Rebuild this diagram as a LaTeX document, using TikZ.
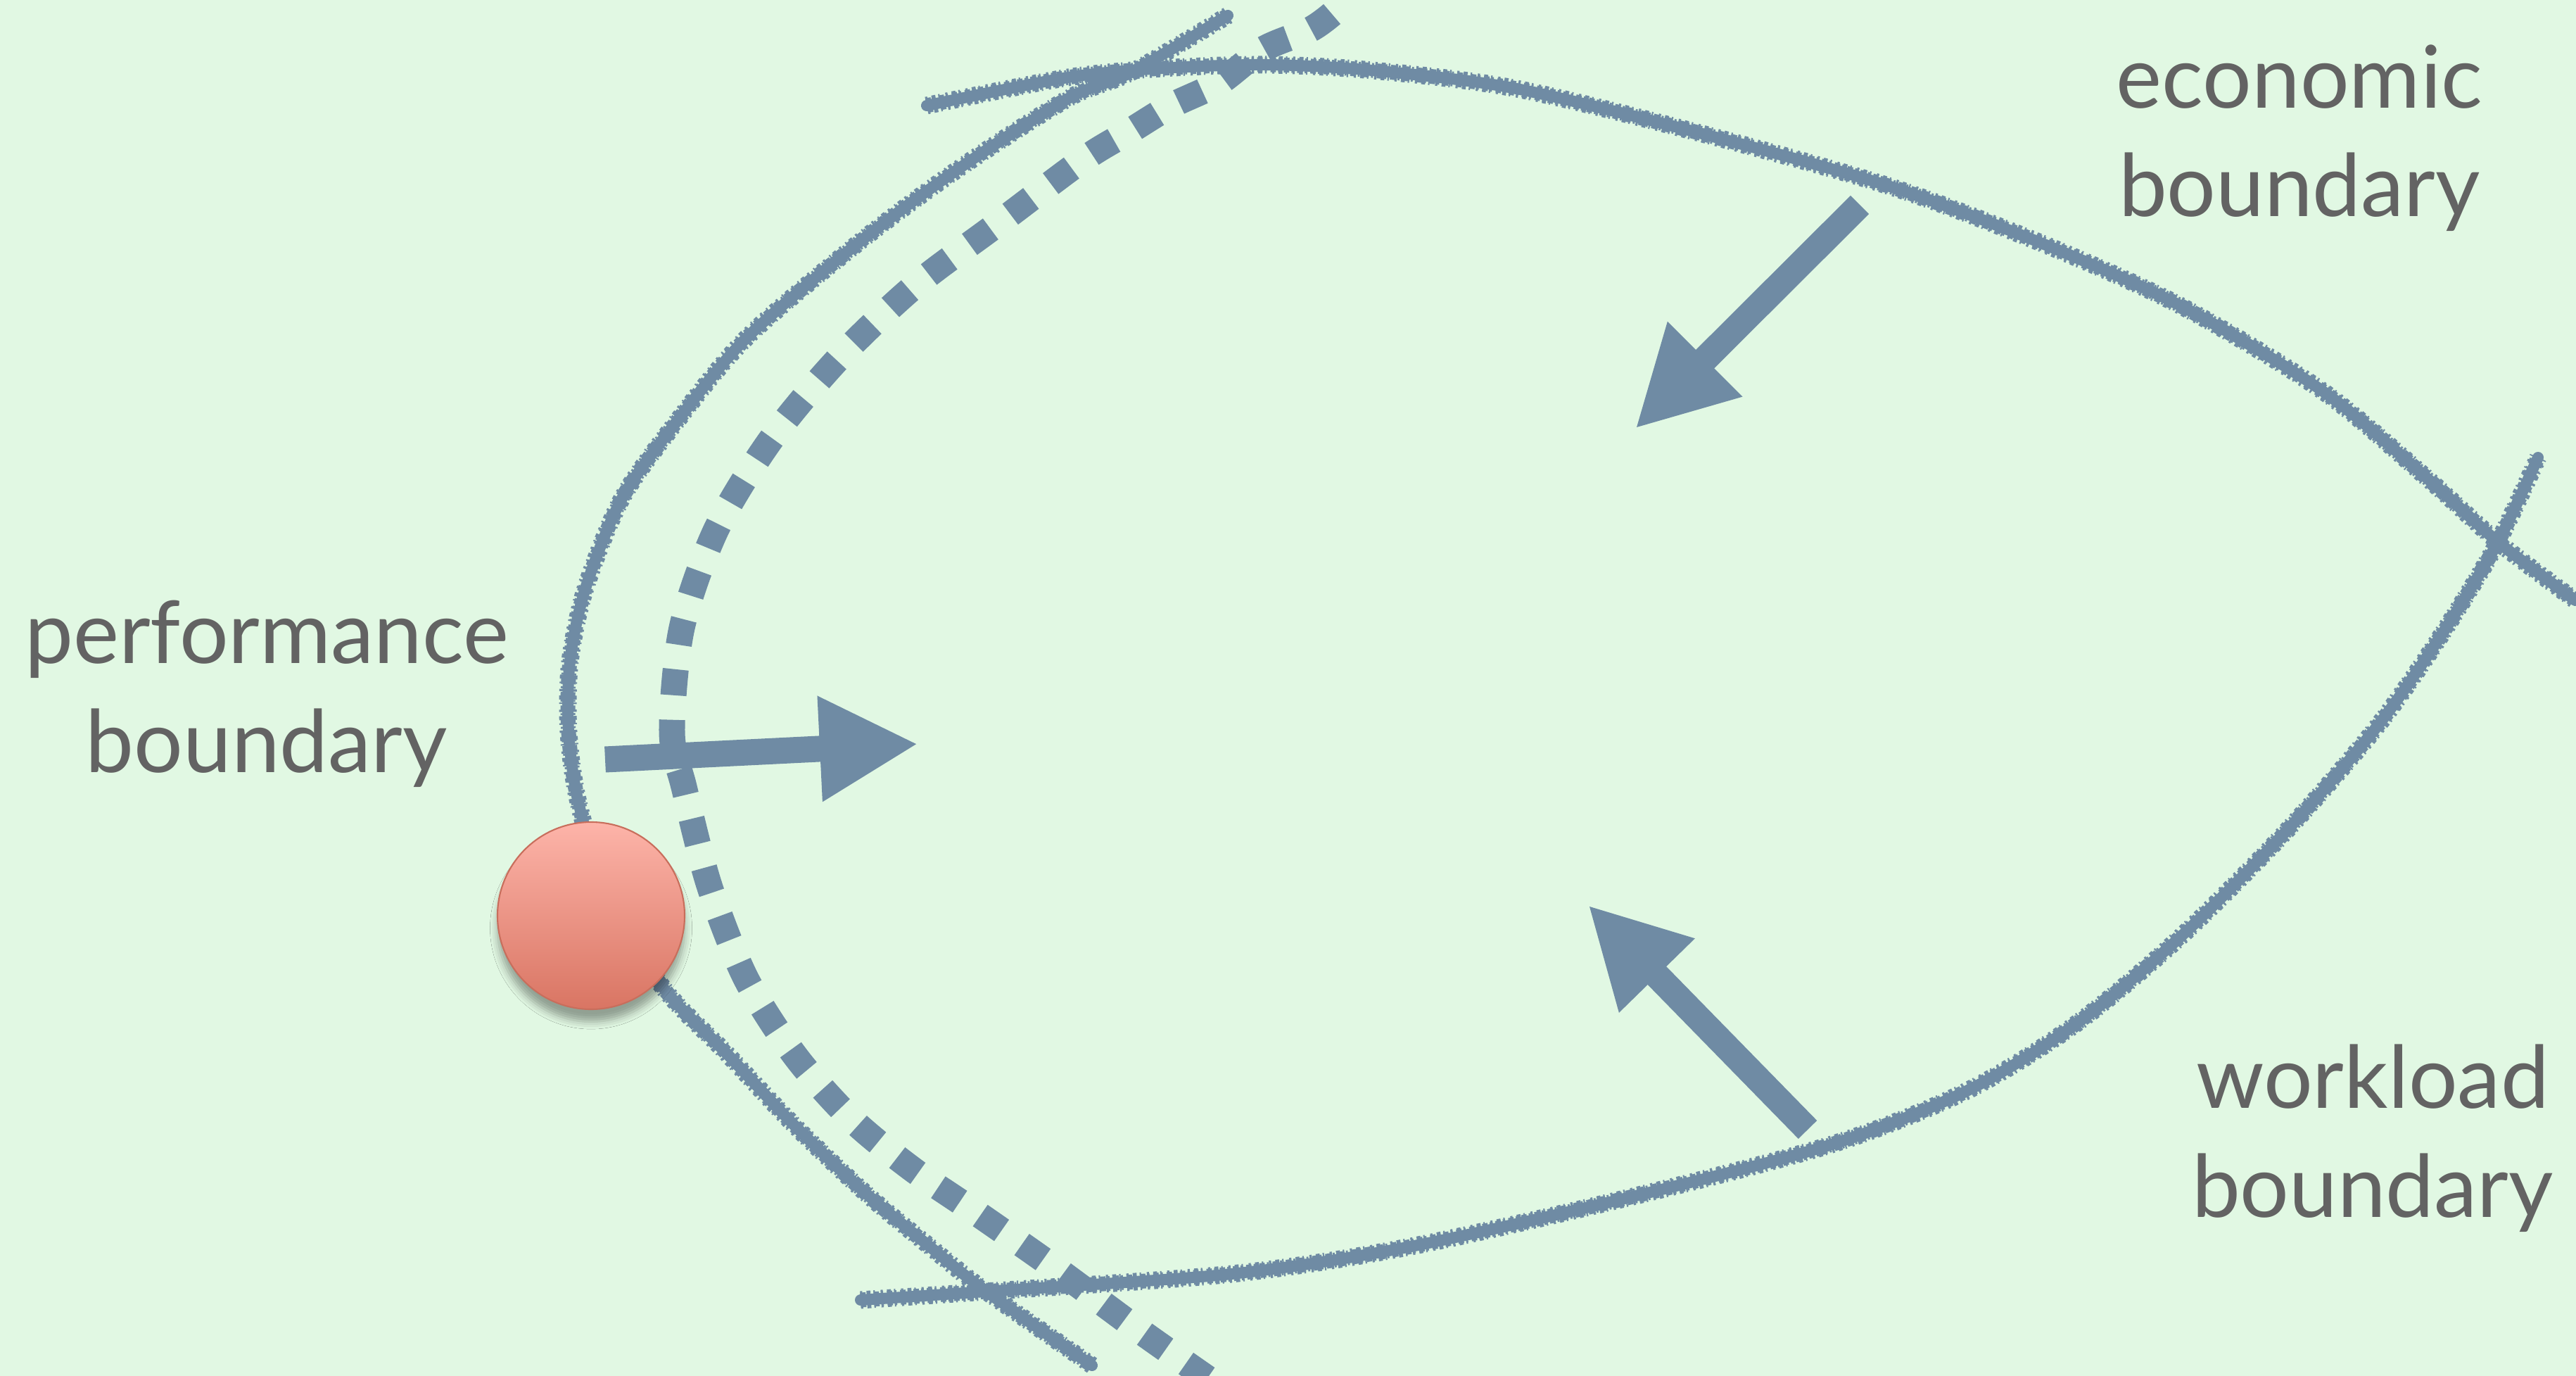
\documentclass[tikz,border=0pt]{standalone}
\usepackage{fontspec}
\setmainfont{Lato}
\usetikzlibrary{arrows.meta,shadows.blur}

\definecolor{paper}{HTML}{E1F8E3}
\definecolor{chalkblue}{HTML}{6F8BA4}
\definecolor{labelgray}{HTML}{636363}
\definecolor{balltop}{HTML}{FDB4A9}
\definecolor{ballbottom}{HTML}{D97563}
\definecolor{ballrim}{HTML}{C86E5C}

\tikzset{
  chalk/.style={draw=chalkblue, line width=0.16cm, line cap=round,
    preaction={draw=chalkblue, line width=0.25cm, line cap=butt,
      dash pattern=on 0.9pt off 1.7pt on 1.6pt off 1.2pt on 0.6pt off 2.3pt},
    preaction={draw=chalkblue, line width=0.21cm, line cap=butt,
      dash pattern=on 2.2pt off 0.9pt on 0.8pt off 1.5pt}},
  dots/.style={draw=chalkblue, line width=0.37cm, dash pattern=on 0.37cm off 0.35cm},
  push/.style={draw=chalkblue, line width=0.37cm, -{Triangle[length=1.4cm,width=1.4cm]}},
  boundarytext/.style={font=\fontsize{35}{44}\selectfont, text=labelgray,
    align=center, anchor=base, inner sep=0pt},
  ball/.style={circle, minimum size=2.66cm, inner sep=0pt,
    top color=balltop, bottom color=ballbottom, draw=ballrim, line width=0.6pt,
    blur shadow={shadow xshift=0pt, shadow yshift=-5pt, shadow blur radius=3pt, shadow opacity=35}}
}

\begin{document}
\begin{tikzpicture}[y=-1cm]
  \fill[paper] (0,0) rectangle (36.61,19.55);
  \useasboundingbox (0,0) rectangle (36.61,19.55);
  \clip (0,0) rectangle (36.61,19.55);

  % performance boundary
  \draw[chalk] plot[smooth] coordinates {(17.45,0.22) (16.07,1.03) (15.18,1.40) (13.62,2.40)
    (12.20,3.45) (10.62,4.79) (9.64,5.96) (8.84,7.08) (8.32,8.36) (8.10,9.40) (8.08,10.40)
    (8.22,11.40) (8.60,12.60) (9.40,14.00) (10.33,14.97) (11.30,16.00) (12.30,16.95)
    (13.20,17.70) (13.99,18.33) (15.52,19.40)};
  % economic boundary
  \draw[chalk] plot[smooth] coordinates {(13.17,1.50) (15.18,1.10) (16.52,0.97) (18.00,0.92)
    (19.50,1.00) (21.50,1.25) (24.00,1.85) (26.80,2.63) (29.00,3.45) (31.00,4.35) (33.00,5.55)
    (34.50,6.80) (35.50,7.70) (36.60,8.53)};
  % workload boundary
  \draw[chalk] plot[smooth] coordinates {(12.23,18.47) (14.00,18.35) (17.50,18.10) (20.00,17.72)
    (23.00,17.05) (26.00,16.27) (27.95,15.50) (29.50,14.55) (31.00,13.30) (32.50,11.80)
    (33.80,10.30) (34.73,8.97) (35.50,7.70) (36.07,6.50)};

  % moved performance boundary
  \draw[dots] plot[smooth] coordinates {(18.93,0.20) (18.62,0.42) (17.95,0.70) (17.32,1.18)
    (16.65,1.50) (16.03,1.88) (15.39,2.27) (14.15,3.20) (12.99,4.07) (11.92,5.09) (10.96,6.24)
    (10.18,7.52) (9.69,8.92) (9.55,10.40) (9.72,11.18) (10.08,12.58) (10.60,13.90) (11.30,15.00)
    (12.10,15.90) (12.95,16.60) (13.83,17.20) (15.00,18.02) (16.23,18.93) (17.40,19.75)};

  % pushes
  \draw[push] (26.43,2.91) -- (23.24,6.09);
  \draw[push] (8.60,10.79) -- (13.05,10.57);
  \draw[push] (25.69,16.05) -- (22.57,12.86);

  \node[ball] (system) at (8.40,13.01) {};

  \node[boundarytext] (economic) at (32.68,3.08) {economic\\boundary};
  \node[boundarytext] (performance) at (3.79,10.97) {performance\\boundary};
  \node[boundarytext] (workload) at (33.72,17.29) {workload\\boundary};
\end{tikzpicture}
\end{document}
